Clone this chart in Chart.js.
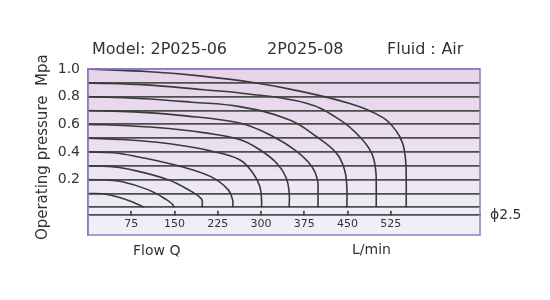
<!DOCTYPE html>
<html>
<head>
<meta charset="utf-8">
<script src="https://cdn.jsdelivr.net/npm/chart.js@4.4.1/dist/chart.umd.min.js"></script>
<style>
  html, body { margin: 0; padding: 0; background: #fff; }
  #wrap { width: 550px; height: 300px; }
</style>
</head>
<body>
<div id="wrap"><canvas id="chart"></canvas></div>
<script>
// x axis tick labels (L/min) and y axis labels (MPa)
const flowTicks = [75, 150, 225, 300, 375, 450, 525];
const pressureLabels = [0.2, 0.4, 0.6, 0.8, 1.0];
const pressureGrid = [0, 0.1, 0.2, 0.3, 0.4, 0.5, 0.6, 0.7, 0.8, 0.9, 1.0];

// one curve per supply pressure: flow Q and pressure p
const q01 = [0, 25, 52, 81, 98];
const p01 = [0.1, 0.098, 0.075, 0.032, 0];
const q02 = [0, 30, 58, 104, 136, 147, 149];
const p02 = [0.2, 0.198, 0.187, 0.128, 0.056, 0.02, 0];
const q03 = [0, 35, 69, 139, 179, 197, 198];
const p03 = [0.3, 0.296, 0.277, 0.2, 0.115, 0.06, 0];
const q04 = [0, 45, 86, 161, 213, 243, 251, 251];
const p04 = [0.4, 0.395, 0.366, 0.295, 0.222, 0.128, 0.05, 0];
const q05 = [0, 60, 120, 165, 210, 263, 286, 298, 301, 301];
const p05 = [0.5, 0.49, 0.47, 0.445, 0.41, 0.344, 0.248, 0.151, 0.06, 0];
const q06 = [0, 70, 140, 200, 263, 298, 327, 344, 349, 349];
const p06 = [0.6, 0.59, 0.57, 0.54, 0.49, 0.416, 0.32, 0.212, 0.1, 0];
const q07 = [0, 80, 160, 263, 321, 362, 388, 398, 399, 399];
const p07 = [0.7, 0.69, 0.665, 0.609, 0.512, 0.404, 0.296, 0.2, 0.1, 0];
const q08 = [0, 90, 180, 263, 350, 396, 431, 445, 449, 449];
const p08 = [0.8, 0.787, 0.76, 0.728, 0.632, 0.512, 0.392, 0.272, 0.15, 0];
const q09 = [0, 100, 200, 263, 379, 437, 471, 492, 499, 500, 500];
const p09 = [0.9, 0.885, 0.85, 0.827, 0.753, 0.632, 0.512, 0.392, 0.27, 0.15, 0];
const q10 = [0, 107, 194, 289, 367, 454, 511, 535, 546, 551, 552, 552];
const p10 = [1.0, 0.98, 0.95, 0.9, 0.84, 0.75, 0.65, 0.55, 0.46, 0.34, 0.2, 0];

const curves = [[q01, p01], [q02, p02], [q03, p03], [q04, p04], [q05, p05],
                [q06, p06], [q07, p07], [q08, p08], [q09, p09], [q10, p10]];

const FONT = '"DejaVu Sans", sans-serif';
const TEXT = '#333';
const FRAME = '#8a7fc0';
const GRID = '#4e4e4e';

const datasets = curves.map(([q, p]) => ({
    data: q.map((v, i) => ({x: v, y: p[i]})),
    borderColor: '#3a3a3a',
    borderWidth: 1.6,
    pointRadius: 0,
    tension: 0.4,
    fill: false
}));

// gradient paper behind the plot box, frame round it
const paper = {
    id: 'paper',
    beforeDraw(chart) {
        const {ctx, chartArea: a} = chart;
        const g = ctx.createLinearGradient(0, a.top, 0, a.bottom);
        g.addColorStop(0, '#e6d3ea');
        g.addColorStop(0.55, '#ebe2f0');
        g.addColorStop(1, '#eef1fa');
        ctx.save();
        ctx.fillStyle = g;
        ctx.fillRect(a.left, a.top, a.right - a.left, a.bottom - a.top);
        ctx.restore();
    },
    afterDraw(chart) {
        const {ctx, chartArea: a} = chart;
        ctx.save();
        ctx.strokeStyle = FRAME;
        ctx.lineWidth = 1.5;
        ctx.strokeRect(a.left, a.top, a.right - a.left, a.bottom - a.top);

        ctx.fillStyle = TEXT;
        ctx.font = '16px ' + FONT;
        ctx.fillText('Model: 2P025-06', 92, 54);
        ctx.fillText('2P025-08', 267, 54);
        ctx.fillText('Fluid：Air', 387, 54);
        ctx.font = '14px ' + FONT;
        ctx.fillText('Flow Q', 133, 255);
        ctx.fillText('L/min', 352, 254);
        ctx.fillText('ϕ2.5', 490, 219);
        ctx.restore();
    }
};

const ctx = document.getElementById('chart').getContext('2d');
const chart = new Chart(ctx, {
    type: 'line',
    data: { datasets },
    options: {
        responsive: true,
        maintainAspectRatio: false,
        animation: false,
        layout: { padding: { top: 69, right: 70, bottom: 65, left: 0 } },
        plugins: {
            legend: { display: false },
            tooltip: { enabled: false }
        },
        scales: {
            x: {
                type: 'linear',
                min: 0,
                max: 680,
                position: { y: -0.053 },
                afterBuildTicks: s => { s.ticks = flowTicks.map(v => ({value: v})); },
                grid: { drawOnChartArea: false, drawTicks: true, tickLength: -5, color: GRID, lineWidth: 1.8 },
                border: { display: true, color: GRID, width: 1.8 },
                ticks: { padding: 8, color: TEXT, font: { family: FONT, size: 11 }, maxRotation: 0, autoSkip: false }
            },
            y: {
                type: 'linear',
                min: -0.2,
                max: 1.0,
                afterBuildTicks: s => { s.ticks = pressureGrid.map(v => ({value: v})); },
                afterFit: s => { s.width = 88; },
                grid: {
                    drawTicks: false,
                    color: c => (c.tick && c.tick.value === 1) ? FRAME : GRID,
                    lineWidth: 1.8
                },
                border: { display: true, color: FRAME, width: 1.5 },
                ticks: {
                    padding: 8,
                    autoSkip: false,
                    color: TEXT,
                    font: { family: FONT, size: 14 },
                    callback: v => pressureLabels.some(l => Math.abs(l - v) < 1e-6) ? v.toFixed(1) : ''
                },
                title: {
                    display: true,
                    text: '  Operating pressure  Mpa',
                    color: TEXT,
                    font: { family: FONT, size: 15 },
                    padding: { top: 34, bottom: 0 }
                }
            }
        }
    },
    plugins: [paper]
});
</script>
</body>
</html>
